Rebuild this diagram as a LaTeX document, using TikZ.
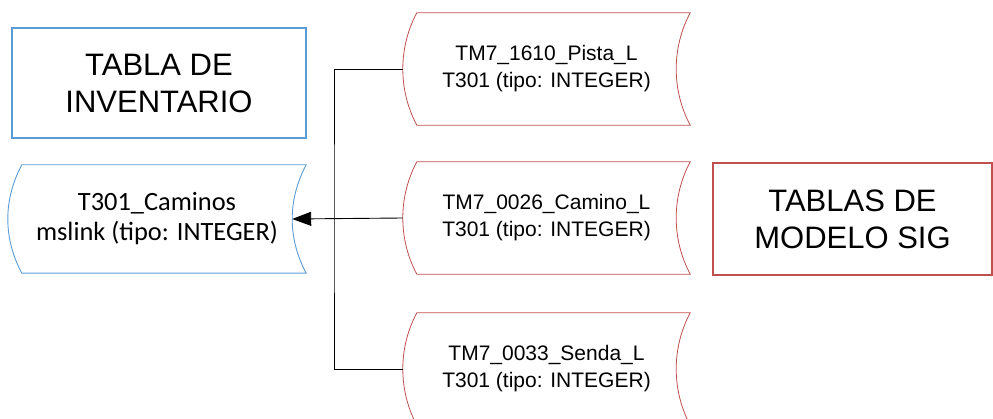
\documentclass[tikz,border=0pt]{standalone}
\usepackage{fontspec}
\setmainfont{Liberation Sans}
\newfontfamily\calib{Carlito}
\usetikzlibrary{arrows.meta}
\definecolor{invblue}{RGB}{91,155,213}
\definecolor{sigred}{RGB}{192,80,77}
\newcommand\sdshape[3]{%
  \draw[#3] ([xshift=#2pt]#1.north west) -- (#1.north east)
    .. controls +({-4*#2/3},35) and +({-4*#2/3},-35) .. (#1.south east)
    -- ([xshift=#2pt]#1.south west)
    .. controls +({-4*#2/3},-35) and +({-4*#2/3},35) .. ([xshift=#2pt]#1.north west) -- cycle;}
\tikzset{
  bigbox/.style={rectangle, line width=1.3pt, align=center, inner sep=0pt,
    font=\fontsize{31}{37}\selectfont},
  redsd/.style={rectangle, inner sep=0pt, align=center, minimum width=287pt, minimum height=112pt,
    font=\fontsize{21}{27}\selectfont},
  conn/.style={line width=0.9pt, black},
}
\begin{document}
\begin{tikzpicture}[x=1pt,y=-1pt]
\useasboundingbox (0,0) rectangle (993,419);
\node[bigbox, draw=invblue, minimum width=294pt, minimum height=110pt] (inv) at (159,83) {TABLA DE\\INVENTARIO};
\node[bigbox, draw=sigred, minimum width=279pt, minimum height=112pt] (sig) at (852.5,219) {TABLAS DE\\MODELO SIG};
\node[rectangle, inner sep=0pt, align=center, minimum width=298pt, minimum height=108pt,
  font=\calib\fontsize{26.4}{30}\selectfont] (cam) at (157,219) {T301\_Caminos\\mslink (tipo: INTEGER)};
\node[redsd] (pista) at (546.5,69) {TM7\_1610\_Pista\_L\\T301 (tipo: INTEGER)};
\node[redsd] (camino) at (546.5,218) {TM7\_0026\_Camino\_L\\T301 (tipo: INTEGER)};
\node[redsd] (senda) at (546.5,369) {TM7\_0033\_Senda\_L\\T301 (tipo: INTEGER)};
\sdshape{cam}{14}{invblue, line width=0.9pt}
\sdshape{pista}{14}{sigred, line width=0.8pt}
\sdshape{camino}{14}{sigred, line width=0.8pt}
\sdshape{senda}{14}{sigred, line width=0.8pt}
\coordinate (j) at (334,218);
\draw[conn] (pista.west) -| (j) |- (senda.west);
\draw[conn, -{Triangle[length=19pt,width=14pt]}] (camino.west) -- ([xshift=-14pt]cam.east);
\end{tikzpicture}
\end{document}
